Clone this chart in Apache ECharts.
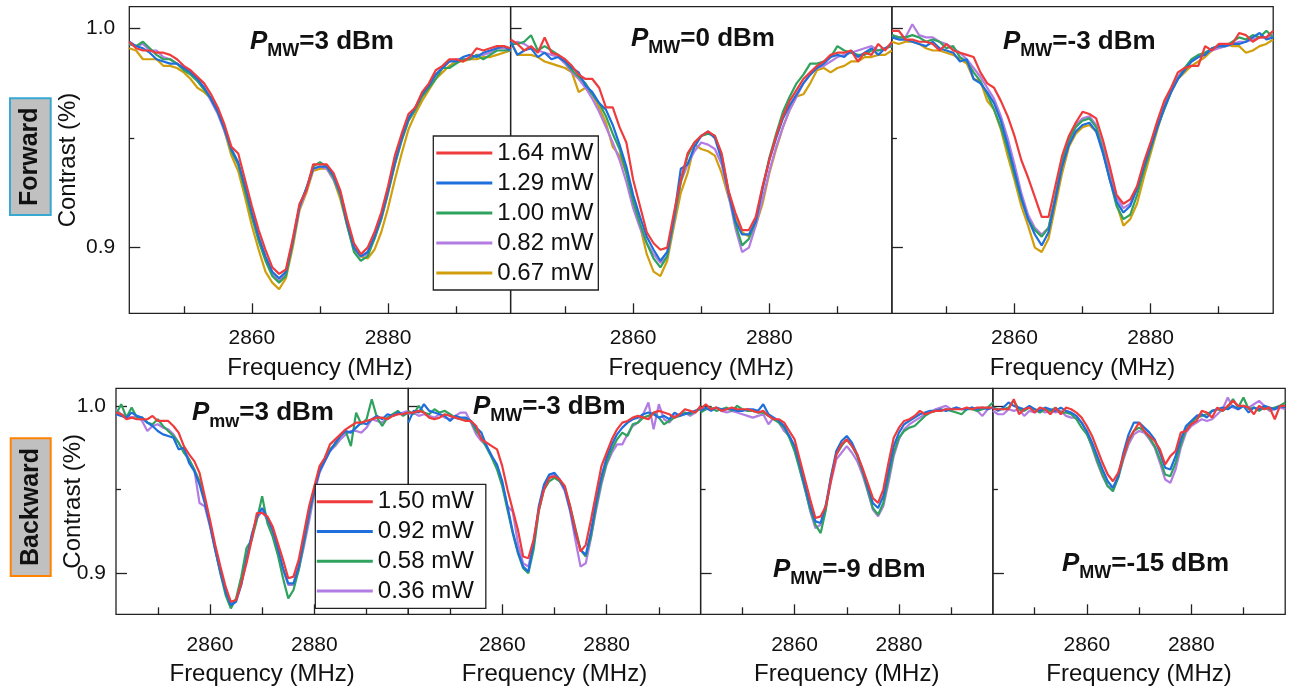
<!DOCTYPE html>
<html>
<head>
<meta charset="utf-8">
<title>ODMR contrast</title>
<script src="https://cdn.jsdelivr.net/npm/echarts@6/dist/echarts.min.js"></script>
<style>
  html, body { margin: 0; padding: 0; background: #fff; }
  #chart { width: 1291px; height: 690px; }
</style>
</head>
<body>
<div id="chart"></div>
<script>
// frequency axis (MHz), one point per MHz
const freq = [2842,2843,2844,2845,2846,2847,2848,2849,2850,2851,2852,2853,2854,2855,2856,2857,2858,2859,2860,2861,2862,2863,2864,2865,2866,2867,2868,2869,2870,2871,2872,2873,2874,2875,2876,2877,2878,2879,2880,2881,2882,2883,2884,2885,2886,2887,2888,2889,2890,2891,2892,2893,2894,2895,2896,2897,2898];

const xMajorTicks = [2860, 2880];
const xMinorTicks = [2850, 2870, 2890];
const yMajorTicks = [0.9, 1.0];
const yMinorTicks = [0.95];

// forward, laser powers
const fwdNames = ['1.64 mW', '1.29 mW', '1.00 mW', '0.82 mW', '0.67 mW'];
// backward, laser powers
const bwdNames = ['1.50 mW', '0.92 mW', '0.58 mW', '0.36 mW'];

// ---- forward, P_MW = 3 dBm
const f3_164 = [.994,.991,.990,.990,.989,.989,.988,.986,.983,.981,.978,.975,.970,.964,.956,.946,.943,.931,.919,.908,.899,.891,.888,.890,.904,.920,.926,.938,.938,.938,.934,.926,.913,.902,.897,.900,.907,.916,.928,.942,.952,.961,.964,.971,.975,.981,.983,.986,.986,.985,.987,.991,.990,.991,.992,.992,.991];
const f3_129 = [.994,.992,.991,.989,.986,.985,.984,.984,.982,.980,.977,.973,.968,.962,.954,.945,.939,.928,.916,.905,.896,.889,.886,.889,.903,.919,.927,.936,.937,.937,.933,.925,.911,.900,.896,.898,.905,.914,.926,.939,.950,.959,.964,.970,.974,.979,.982,.985,.985,.987,.988,.987,.989,.990,.991,.992,.990];
const f3_100 = [.993,.992,.994,.991,.988,.986,.986,.984,.981,.979,.976,.972,.968,.962,.954,.944,.938,.926,.914,.903,.894,.887,.884,.887,.902,.919,.927,.937,.939,.937,.932,.924,.910,.898,.894,.896,.904,.913,.925,.938,.949,.958,.963,.969,.973,.977,.982,.982,.984,.986,.986,.988,.986,.988,.990,.990,.990];
const f3_082 = [.993,.992,.993,.990,.990,.987,.986,.984,.982,.980,.977,.973,.967,.961,.953,.944,.938,.927,.915,.904,.895,.888,.885,.888,.902,.918,.926,.936,.937,.936,.931,.924,.911,.900,.896,.897,.904,.913,.925,.938,.949,.958,.963,.970,.974,.979,.982,.985,.986,.986,.986,.988,.988,.989,.991,.991,.990];
const f3_067 = [.991,.990,.986,.986,.986,.983,.983,.982,.980,.977,.973,.971,.968,.963,.953,.942,.935,.923,.910,.899,.889,.884,.881,.886,.900,.917,.925,.935,.936,.936,.931,.922,.910,.899,.896,.895,.899,.907,.918,.931,.943,.954,.961,.967,.972,.977,.980,.983,.985,.985,.986,.986,.987,.987,.988,.989,.990];

// ---- forward, P_MW = 0 dBm
const f0_164 = [.995,.993,.990,.992,.989,.996,.989,.988,.986,.983,.979,.977,.977,.973,.964,.964,.955,.948,.931,.919,.907,.902,.899,.900,.916,.931,.943,.948,.951,.953,.951,.943,.926,.916,.908,.908,.914,.928,.940,.951,.960,.967,.972,.977,.980,.983,.985,.988,.989,.989,.990,.985,.989,.988,.993,.990,.994];
const f0_129 = [.994,.988,.990,.991,.987,.989,.986,.987,.985,.982,.980,.974,.971,.966,.963,.956,.947,.937,.924,.914,.905,.899,.894,.898,.914,.936,.938,.946,.951,.953,.950,.940,.925,.912,.906,.906,.912,.927,.940,.950,.959,.965,.970,.975,.979,.982,.984,.987,.988,.987,.990,.987,.989,.991,.988,.991,.993];
const f0_100 = [.993,.993,.994,.997,.990,.992,.990,.988,.985,.981,.978,.975,.970,.966,.960,.952,.945,.934,.921,.911,.902,.895,.891,.896,.913,.930,.942,.948,.951,.952,.951,.942,.926,.911,.901,.904,.912,.927,.941,.952,.962,.969,.975,.979,.984,.984,.985,.987,.992,.990,.989,.988,.988,.990,.990,.991,.992];
const f0_082 = [.993,.994,.993,.991,.990,.989,.988,.987,.984,.980,.977,.973,.968,.962,.955,.948,.940,.930,.918,.909,.902,.897,.893,.896,.912,.930,.938,.944,.948,.947,.945,.938,.924,.909,.898,.900,.910,.922,.935,.946,.955,.963,.969,.975,.979,.982,.983,.985,.987,.988,.989,.990,.991,.992,.990,.991,.992];
const f0_067 = [.994,.988,.988,.988,.987,.985,.984,.983,.982,.980,.971,.973,.970,.964,.957,.946,.942,.934,.923,.910,.897,.889,.887,.894,.910,.925,.934,.947,.945,.944,.942,.934,.923,.914,.907,.905,.910,.920,.934,.945,.955,.963,.969,.970,.975,.981,.982,.980,.982,.983,.985,.985,.987,.987,.988,.988,.990];

// ---- forward, P_MW = -3 dBm
const fm3_164 = [.999,.999,.995,.995,.994,.994,.993,.990,.993,.990,.989,.988,.987,.980,.975,.973,.967,.960,.951,.940,.932,.923,.914,.914,.928,.942,.951,.957,.962,.961,.959,.949,.937,.924,.920,.922,.928,.939,.948,.958,.967,.973,.980,.982,.983,.983,.992,.990,.993,.993,.993,.998,.997,.994,.996,.996,.999];
const fm3_129 = [.996,.995,.995,.994,.993,.992,.994,.991,.990,.989,.985,.986,.977,.975,.971,.966,.958,.947,.935,.923,.913,.906,.901,.907,.922,.937,.947,.953,.956,.957,.953,.943,.931,.921,.916,.919,.927,.937,.946,.955,.964,.971,.977,.981,.985,.987,.988,.991,.992,.992,.993,.993,.994,.996,.998,.995,.996];
const fm3_100 = [.997,.996,.996,.997,.996,.994,.995,.994,.991,.992,.987,.985,.980,.976,.970,.963,.955,.945,.933,.922,.913,.908,.905,.909,.923,.939,.949,.955,.958,.959,.955,.944,.931,.919,.913,.915,.924,.935,.945,.955,.963,.971,.977,.982,.986,.988,.989,.991,.992,.992,.994,.996,.995,.997,.996,.999,.996];
const fm3_082 = [.997,.996,.996,1.002,.997,.996,.996,.994,.993,.991,.989,.986,.982,.978,.973,.968,.960,.950,.938,.925,.915,.909,.906,.909,.923,.939,.950,.956,.959,.960,.956,.946,.934,.923,.918,.920,.927,.937,.947,.956,.965,.972,.978,.982,.985,.987,.989,.990,.991,.992,.993,.994,.994,.995,.996,.996,.997];
const fm3_067 = [.994,.993,.994,.994,.993,.991,.990,.990,.989,.988,.986,.984,.977,.976,.967,.963,.954,.942,.931,.919,.910,.900,.898,.904,.919,.934,.946,.952,.955,.956,.953,.945,.932,.920,.910,.913,.920,.932,.943,.954,.964,.971,.977,.980,.983,.985,.987,.990,.992,.993,.992,.992,.989,.990,.992,.993,.995];

// ---- backward, P_MW = 3 dBm
const b3_150 = [.996,.995,.992,.993,.992,.992,.992,.994,.991,.991,.991,.988,.984,.976,.971,.967,.960,.946,.932,.917,.904,.892,.883,.884,.894,.906,.920,.936,.936,.934,.928,.918,.908,.897,.898,.908,.924,.940,.952,.964,.969,.977,.980,.983,.986,.988,.990,.990,.991,.992,.993,.993,.992,.994,.995,.995,.996];
const b3_092 = [.995,.994,.993,.996,.994,.993,.990,.988,.985,.983,.982,.981,.974,.975,.966,.961,.953,.942,.929,.914,.901,.889,.881,.883,.893,.908,.923,.934,.939,.933,.926,.915,.903,.894,.894,.904,.920,.936,.950,.961,.967,.973,.978,.982,.985,.984,.987,.990,.989,.992,.994,.992,.995,.994,.996,.995,.996];
const b3_058 = [.995,1.001,.993,.999,.993,.993,.990,.989,.992,.988,.985,.982,.978,.972,.968,.962,.955,.944,.930,.915,.900,.887,.879,.885,.898,.915,.920,.932,.946,.930,.922,.911,.897,.885,.890,.902,.918,.935,.950,.962,.968,.974,.977,.982,.985,.976,.996,.989,.992,1.004,.993,.988,.993,.995,.997,.994,.996];
const b3_036 = [.998,.995,.994,.993,.994,.991,.985,.988,.989,.987,.986,.983,.978,.973,.968,.962,.942,.940,.928,.914,.900,.889,.882,.884,.895,.910,.922,.933,.937,.932,.925,.914,.902,.893,.893,.902,.916,.931,.948,.960,.967,.973,.976,.980,.983,.985,.985,.984,.987,.992,.991,.990,.993,.994,.995,.996,.997];

// ---- backward, P_MW = -3 dBm
const bm3_150 = [.996,.996,.997,.996,.993,.992,.993,.995,.994,.993,.992,.991,.991,.988,.980,.978,.976,.974,.964,.950,.938,.926,.910,.909,.920,.938,.950,.957,.958,.956,.952,.940,.926,.913,.917,.932,.948,.964,.972,.980,.986,.990,.991,.993,.994,.993,.992,.996,.997,.996,.995,.993,.995,.998,.997,.996,1.000];
const bm3_092 = [.990,.997,.996,1.001,.997,.996,.995,.994,.991,.994,.993,.993,.991,.987,.984,.976,.970,.965,.955,.940,.925,.913,.904,.901,.918,.940,.953,.959,.960,.956,.950,.938,.924,.914,.911,.925,.943,.958,.969,.977,.983,.987,.990,.992,.993,.995,.996,.995,.993,.994,.992,.996,.994,.995,.996,.997,.999];
const bm3_058 = [.997,.995,1.000,.996,.995,.998,.996,.997,.995,.993,.992,.992,.991,.985,.981,.975,.969,.962,.952,.938,.924,.912,.903,.900,.914,.937,.950,.955,.957,.955,.951,.940,.927,.914,.910,.922,.940,.955,.966,.974,.980,.984,.982,.989,.990,.993,.994,.996,.993,.989,.991,.993,.994,.996,.995,.997,.998];
const bm3_036 = [.995,.996,.994,.995,.994,.993,.995,.993,.992,.994,.996,.996,.990,.983,.979,.976,.970,.963,.953,.940,.937,.918,.906,.904,.917,.938,.952,.958,.959,.955,.949,.937,.920,.904,.906,.921,.938,.953,.965,.972,.977,.977,.983,.988,.990,.995,1.002,.986,1.001,.992,.990,.994,.995,.996,.994,.996,.999];

// ---- backward, P_MW = -9 dBm
const bm9_150 = [.998,1.001,.998,.999,.997,.998,.999,.998,.998,.998,.997,.996,.997,.994,.992,.992,.990,.985,.980,.968,.956,.944,.933,.934,.940,.956,.971,.977,.980,.976,.971,.963,.954,.945,.942,.950,.966,.981,.987,.991,.992,.994,.997,.995,.996,.997,.997,.998,.998,.998,.998,.999,.998,.999,.999,.999,.999];
const bm9_092 = [.997,.999,.997,.999,.998,.998,.998,.997,.997,.998,.998,.997,1.001,.995,.993,.991,.988,.982,.976,.965,.952,.940,.931,.930,.941,.958,.973,.979,.982,.978,.971,.962,.952,.942,.939,.946,.961,.976,.984,.989,.991,.993,.995,.996,.997,.997,.998,.997,.998,.999,.998,.998,.999,.998,.999,.998,.999];
const bm9_058 = [.996,.998,.999,.997,.998,.999,.997,1.000,.998,.997,.997,.996,.996,.994,.992,.990,.987,.981,.973,.962,.950,.938,.929,.924,.938,.958,.971,.976,.980,.976,.970,.961,.950,.939,.935,.942,.957,.972,.981,.985,.987,.988,.991,.994,.996,.997,.997,.998,.997,.996,.995,.998,.998,.997,.998,.999,1.002];
const bm9_036 = [.997,.998,.998,.999,.997,.996,.997,.996,.995,.994,.993,.994,.995,.989,.993,.990,.985,.982,.975,.962,.951,.937,.927,.929,.940,.955,.968,.972,.976,.972,.967,.959,.949,.938,.934,.940,.954,.970,.980,.986,.989,.991,.993,.995,.996,.998,.999,1.000,.998,.999,.998,.998,.999,.997,.994,.998,.999];

// ---- backward, P_MW = -15 dBm
const bm15_150 = [.998,.998,.998,.998,1.004,.995,.998,.999,.996,.999,.998,.995,.999,.995,.999,.998,.996,.993,.988,.982,.974,.966,.959,.955,.960,.970,.980,.985,.990,.985,.982,.979,.974,.965,.970,.973,.984,.985,.989,.991,.997,.996,.993,.999,.997,1.000,1.003,1.000,1.000,.999,.995,1.000,.998,.999,.992,1.000,1.000];
const bm15_092 = [.999,.997,.999,1.002,1.000,.999,.998,1.000,.998,.997,.999,.998,.997,.999,.997,.996,.994,.990,.985,.978,.970,.962,.955,.951,.958,.972,.983,.990,.990,.987,.984,.980,.972,.963,.962,.970,.980,.988,.991,.994,.995,.993,.997,.998,.999,.998,1.000,.998,1.000,.996,.999,.998,1.000,.999,.998,1.000,.999];
const bm15_058 = [.999,.998,.998,.999,1.003,.998,.997,.999,.998,.996,.998,.997,.999,.996,.996,.995,.992,.987,.983,.976,.967,.959,.952,.949,.957,.969,.979,.985,.987,.985,.981,.976,.968,.959,.958,.966,.977,.986,.990,.993,.994,.995,.997,.998,.997,.999,1.004,.999,1.005,.998,.999,.997,.999,.998,.999,1.000,1.002];
const bm15_036 = [.997,.995,.995,.998,.997,.998,.994,.997,.996,.998,.996,.997,.996,.997,.994,.993,.993,.990,.984,.975,.966,.958,.952,.951,.957,.968,.977,.983,.985,.984,.980,.975,.966,.956,.954,.962,.975,.984,.988,.990,.992,.991,.992,.995,.998,1.005,.999,.998,1.000,.999,1.001,1.003,1.000,.997,.998,.999,.998];

const colors = {
  red: '#ef3b3c', blue: '#1e6fdc', green: '#2fa35e', purple: '#b27ce2', gold: '#d29e0c'
};

const FONT = '"Liberation Sans", Arial, Helvetica, sans-serif';

// panel layout (pixels)
const panels = [
  { left: 129.3, top: 6.7, width: 381.3, height: 306.6, ymin: 0.870, ymax: 1.010, first: true,  row: 0,
    title: ['MW', '=3 dBm'], tx: 250, ty: 32,
    lines: [[fwdNames[4], f3_067, 'gold'], [fwdNames[3], f3_082, 'purple'], [fwdNames[2], f3_100, 'green'], [fwdNames[1], f3_129, 'blue'], [fwdNames[0], f3_164, 'red']] },
  { left: 510.6, top: 6.7, width: 381.3, height: 306.6, ymin: 0.870, ymax: 1.010, first: false, row: 0,
    title: ['MW', '=0 dBm'], tx: 631, ty: 29,
    lines: [[fwdNames[4], f0_067, 'gold'], [fwdNames[3], f0_082, 'purple'], [fwdNames[2], f0_100, 'green'], [fwdNames[1], f0_129, 'blue'], [fwdNames[0], f0_164, 'red']] },
  { left: 891.9, top: 6.7, width: 381.3, height: 306.6, ymin: 0.870, ymax: 1.010, first: false, row: 0,
    title: ['MW', '=-3 dBm'], tx: 1003, ty: 32,
    lines: [[fwdNames[4], fm3_067, 'gold'], [fwdNames[3], fm3_082, 'purple'], [fwdNames[2], fm3_100, 'green'], [fwdNames[1], fm3_129, 'blue'], [fwdNames[0], fm3_164, 'red']] },
  { left: 116, top: 388.3, width: 292.3, height: 226, ymin: 0.8755, ymax: 1.0105, first: true, row: 1,
    title: ['mw', '=3 dBm'], tx: 192, ty: 403,
    lines: [[bwdNames[3], b3_036, 'purple'], [bwdNames[2], b3_058, 'green'], [bwdNames[1], b3_092, 'blue'], [bwdNames[0], b3_150, 'red']] },
  { left: 408.3, top: 388.3, width: 292.3, height: 226, ymin: 0.8755, ymax: 1.0105, first: false, row: 1,
    title: ['MW', '=-3 dBm'], tx: 473, ty: 397,
    lines: [[bwdNames[3], bm3_036, 'purple'], [bwdNames[2], bm3_058, 'green'], [bwdNames[1], bm3_092, 'blue'], [bwdNames[0], bm3_150, 'red']] },
  { left: 700.6, top: 388.3, width: 292.3, height: 226, ymin: 0.8755, ymax: 1.0105, first: false, row: 1,
    title: ['MW', '=-9 dBm'], tx: 773, ty: 560,
    lines: [[bwdNames[3], bm9_036, 'purple'], [bwdNames[2], bm9_058, 'green'], [bwdNames[1], bm9_092, 'blue'], [bwdNames[0], bm9_150, 'red']] },
  { left: 992.9, top: 388.3, width: 292.3, height: 226, ymin: 0.8755, ymax: 1.0105, first: false, row: 1,
    title: ['MW', '=-15 dBm'], tx: 1062, ty: 554,
    lines: [[bwdNames[3], bm15_036, 'purple'], [bwdNames[2], bm15_058, 'green'], [bwdNames[1], bm15_092, 'blue'], [bwdNames[0], bm15_150, 'red']] }
];

const tickStyle = { color: '#222', width: 1.3 };

let grid = [], xAxis = [], yAxis = [], series = [], title = [];

panels.forEach(function (p, i) {
  grid.push({ left: p.left, top: p.top, width: p.width, height: p.height,
    show: true, borderColor: '#222', borderWidth: 1.3, backgroundColor: 'transparent' });

  // main x axis with labels, then a second one only for the short ticks
  xAxis.push({
    type: 'value', gridIndex: i, min: 2842, max: 2898, position: 'bottom',
    axisLine: { show: false }, splitLine: { show: false },
    axisTick: { inside: true, length: 10, customValues: xMajorTicks, lineStyle: tickStyle },
    axisLabel: { customValues: xMajorTicks, margin: p.row === 0 ? 14 : 20, fontSize: 21, color: '#111', fontFamily: FONT,
      formatter: function (v) { return String(v); } },
    name: 'Frequency (MHz)', nameLocation: 'middle', nameGap: p.row === 0 ? 43 : 48, nameMoveOverlap: false,
    nameTextStyle: { fontSize: 24, color: '#111', fontFamily: FONT }
  });
  xAxis.push({
    type: 'value', gridIndex: i, min: 2842, max: 2898, position: 'bottom',
    axisLine: { show: false }, splitLine: { show: false },
    axisTick: { inside: true, length: 7, customValues: xMinorTicks, lineStyle: tickStyle },
    axisLabel: { show: false }
  });

  yAxis.push({
    type: 'value', gridIndex: i, min: p.ymin, max: p.ymax, position: 'left',
    axisLine: { show: false }, splitLine: { show: false },
    axisTick: { inside: true, length: 11, customValues: yMajorTicks, lineStyle: tickStyle },
    axisLabel: { show: p.first, customValues: yMajorTicks, margin: p.row === 0 ? 14 : 10,
      fontSize: 21, color: '#111', fontFamily: FONT,
      formatter: function (v) { return v.toFixed(1); } },
    name: p.first ? 'Contrast (%)' : '', nameLocation: 'middle', nameGap: p.row === 0 ? 49 : 31,
    nameMoveOverlap: false,
    nameTextStyle: { fontSize: 24, color: '#111', fontFamily: FONT }
  });
  yAxis.push({
    type: 'value', gridIndex: i, min: p.ymin, max: p.ymax, position: 'left',
    axisLine: { show: false }, splitLine: { show: false },
    axisTick: { inside: true, length: 5, customValues: yMinorTicks, lineStyle: tickStyle },
    axisLabel: { show: false }
  });

  p.lines.forEach(function (l) {
    series.push({
      name: l[0], type: 'line', xAxisIndex: 2 * i, yAxisIndex: 2 * i,
      data: freq.map(function (f, k) { return [f, l[1][k]]; }),
      color: colors[l[2]], symbol: 'none', showSymbol: false,
      lineStyle: { width: 2.2, color: colors[l[2]] },
      emphasis: { disabled: true }
    });
  });

  title.push({
    text: '{p|P}{s|' + p.title[0] + '}{n|' + p.title[1] + '}',
    left: p.tx, top: p.ty, padding: 0,
    textStyle: {
      rich: {
        p: { fontSize: 26, fontWeight: 'bold', fontStyle: 'italic', fontFamily: FONT, color: '#111',
             lineHeight: 28, verticalAlign: 'bottom', padding: [0, 0, 5, 0] },
        s: { fontSize: 18, fontWeight: 'bold', fontFamily: FONT, color: '#111',
             lineHeight: 19, verticalAlign: 'bottom' },
        n: { fontSize: 26, fontWeight: 'bold', fontFamily: FONT, color: '#111',
             lineHeight: 28, verticalAlign: 'bottom', padding: [0, 0, 5, 0] }
      }
    }
  });
});

let legendBase = {
  orient: 'vertical', icon: 'rect', itemWidth: 56, itemHeight: 3,
  borderColor: '#222', borderWidth: 1.3, backgroundColor: '#fff', borderRadius: 0,
  textStyle: { fontSize: 24, color: '#111', fontFamily: FONT, lineHeight: 24 },
  selectedMode: false, z: 10
};

let option = {
  animation: false,
  backgroundColor: '#fff',
  grid: grid,
  xAxis: xAxis,
  yAxis: yAxis,
  series: series,
  title: title,
  legend: [
    Object.assign({}, legendBase, { left: 433.3, top: 136, padding: [5, 5, 5, 3], itemGap: 6, data: fwdNames }),
    Object.assign({}, legendBase, { left: 315.3, top: 484.3, padding: [5.5, 12, 5.5, 1.5], itemGap: 5.7, data: bwdNames })
  ],
  graphic: [
    { type: 'rect', shape: { x: 10, y: 98.3, width: 40.7, height: 116.7 },
      style: { fill: '#c0c0c0', stroke: '#37a8d2', lineWidth: 2 } },
    { type: 'text', x: 30.5, y: 156.7, rotation: Math.PI / 2,
      style: { text: 'Forward', fontSize: 25, fontWeight: 'bold', fontFamily: FONT, fill: '#111',
               align: 'center', verticalAlign: 'middle' } },
    { type: 'rect', shape: { x: 10.7, y: 438.3, width: 40, height: 137.7 },
      style: { fill: '#c0c0c0', stroke: '#ff8200', lineWidth: 2 } },
    { type: 'text', x: 30.7, y: 507, rotation: Math.PI / 2,
      style: { text: 'Backward', fontSize: 25, fontWeight: 'bold', fontFamily: FONT, fill: '#111',
               align: 'center', verticalAlign: 'middle' } }
  ]
};

let chart = echarts.init(document.getElementById('chart'));
chart.setOption(option);
</script>
</body>
</html>
